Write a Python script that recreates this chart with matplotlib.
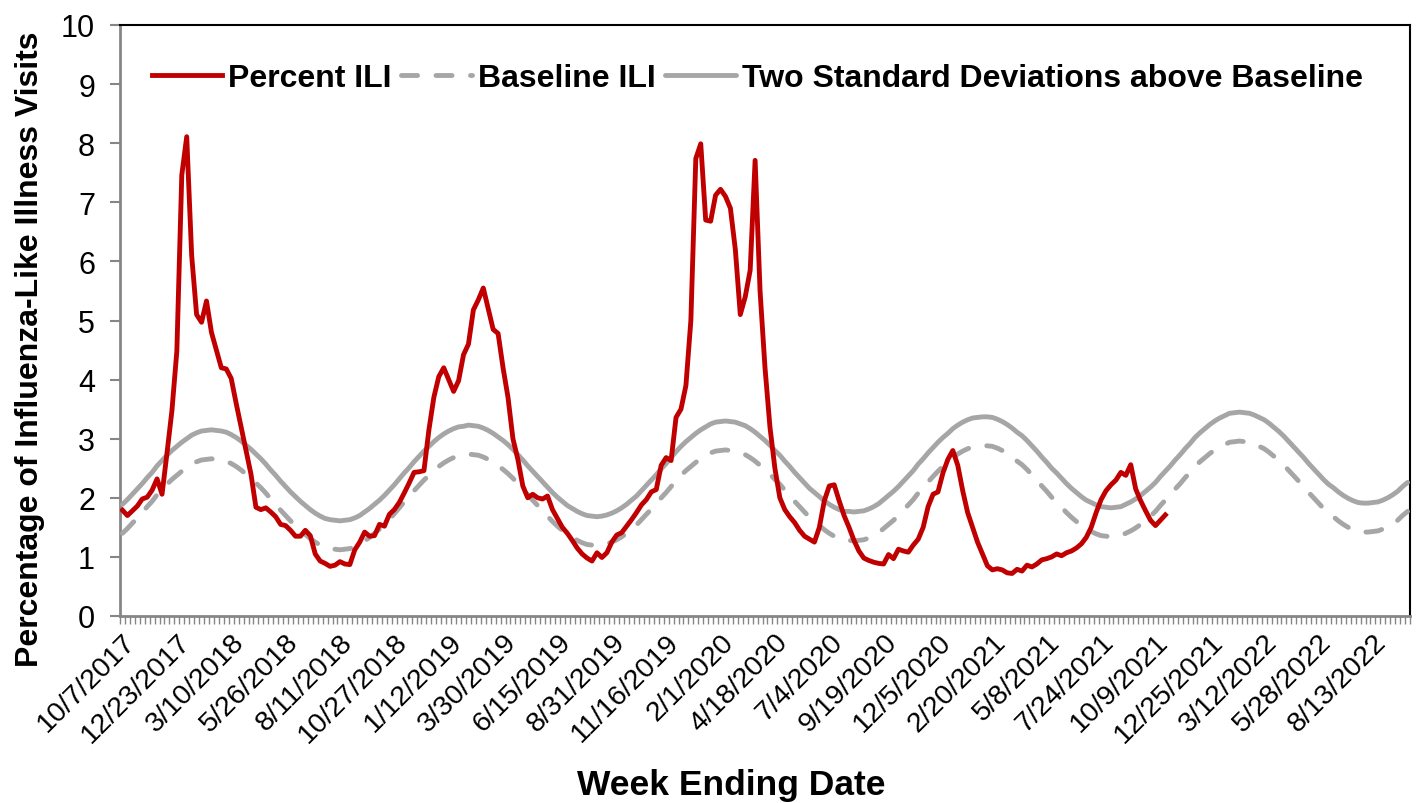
import matplotlib
matplotlib.use('Agg')
import matplotlib.pyplot as plt
import numpy as np
import pandas as pd
from matplotlib.ticker import FixedLocator, FixedFormatter

plt.rcParams['font.family'] = ['Liberation Sans', 'DejaVu Sans']

# Semanas (eje de categorias): 10/7/2017 ... 10/1/2022
semanas = pd.date_range('2017-10-07', periods=261, freq='7D')
etiquetas = [f'{d.month}/{d.day}/{d.year}' for d in semanas]

# Porcentaje de visitas ILI (termina en oct 2021)
percent_ili = [
    1.79, 1.70, 1.78, 1.86, 1.98, 2.01, 2.13, 2.32, 2.06, 2.75,
    3.47, 4.48, 7.46, 8.11, 6.10, 5.10, 4.97, 5.33, 4.80, 4.50,
    4.20, 4.18, 4.02, 3.60, 3.20, 2.80, 2.40, 1.84, 1.80, 1.83,
    1.76, 1.68, 1.55, 1.53, 1.45, 1.35, 1.35, 1.45, 1.36, 1.05,
    0.93, 0.89, 0.84, 0.86, 0.92, 0.88, 0.87, 1.12, 1.25, 1.42,
    1.35, 1.36, 1.55, 1.52, 1.72, 1.80, 1.92, 2.08, 2.25, 2.43,
    2.44, 2.46, 3.15, 3.70, 4.05, 4.20, 4.00, 3.80, 3.98, 4.42,
    4.60, 5.18, 5.35, 5.55, 5.20, 4.85, 4.78, 4.20, 3.70, 3.00,
    2.65, 2.20, 2.00, 2.06, 2.00, 1.98, 2.03, 1.80, 1.65, 1.50,
    1.40, 1.28, 1.15, 1.05, 0.98, 0.93, 1.07, 0.99, 1.07, 1.25,
    1.37, 1.41, 1.52, 1.63, 1.75, 1.88, 1.97, 2.10, 2.14, 2.55,
    2.68, 2.63, 3.36, 3.50, 3.90, 5.00, 7.74, 7.99, 6.70, 6.68,
    7.12, 7.22, 7.10, 6.90, 6.20, 5.10, 5.40, 5.85, 7.71, 5.50,
    4.20, 3.20, 2.50, 2.00, 1.80, 1.68, 1.58, 1.45, 1.35, 1.30,
    1.25, 1.50, 1.95, 2.20, 2.22, 1.95, 1.70, 1.50, 1.28, 1.10,
    0.98, 0.94, 0.91, 0.89, 0.88, 1.04, 0.97, 1.13, 1.10, 1.08,
    1.20, 1.30, 1.50, 1.85, 2.06, 2.10, 2.42, 2.65, 2.80, 2.55,
    2.12, 1.75, 1.50, 1.25, 1.05, 0.85, 0.78, 0.80, 0.78, 0.73,
    0.72, 0.79, 0.76, 0.86, 0.83, 0.88, 0.95, 0.97, 1.00, 1.05,
    1.02, 1.07, 1.10, 1.15, 1.22, 1.33, 1.50, 1.75, 1.97, 2.12,
    2.22, 2.30, 2.43, 2.38, 2.56, 2.15, 1.95, 1.78, 1.62, 1.53,
    1.62, 1.71,
]

# Linea base ILI
baseline_ili = [
    1.40, 1.48, 1.57, 1.66, 1.75, 1.85, 1.94, 2.05, 2.14, 2.23,
    2.31, 2.38, 2.45, 2.51, 2.57, 2.61, 2.64, 2.65, 2.66, 2.65,
    2.64, 2.62, 2.58, 2.53, 2.47, 2.40, 2.33, 2.25, 2.17, 2.08,
    1.98, 1.89, 1.79, 1.70, 1.61, 1.53, 1.45, 1.38, 1.31, 1.25,
    1.20, 1.16, 1.14, 1.13, 1.12, 1.13, 1.14, 1.17, 1.21, 1.27,
    1.33, 1.40, 1.47, 1.55, 1.64, 1.73, 1.83, 1.93, 2.02, 2.12,
    2.21, 2.30, 2.38, 2.46, 2.53, 2.59, 2.64, 2.68, 2.71, 2.72,
    2.74, 2.73, 2.72, 2.69, 2.65, 2.60, 2.54, 2.48, 2.41, 2.33,
    2.24, 2.15, 2.05, 1.96, 1.87, 1.78, 1.69, 1.60, 1.52, 1.45,
    1.38, 1.33, 1.28, 1.24, 1.21, 1.20, 1.19, 1.20, 1.22, 1.25,
    1.29, 1.34, 1.40, 1.47, 1.54, 1.63, 1.72, 1.81, 1.90, 2.00,
    2.09, 2.19, 2.29, 2.38, 2.46, 2.53, 2.60, 2.66, 2.71, 2.76,
    2.79, 2.80, 2.81, 2.80, 2.79, 2.76, 2.73, 2.68, 2.62, 2.55,
    2.48, 2.40, 2.31, 2.23, 2.13, 2.04, 1.94, 1.85, 1.76, 1.67,
    1.60, 1.53, 1.46, 1.40, 1.35, 1.31, 1.28, 1.28, 1.27, 1.28,
    1.29, 1.32, 1.36, 1.41, 1.48, 1.55, 1.62, 1.70, 1.79, 1.88,
    1.97, 2.08, 2.17, 2.27, 2.36, 2.45, 2.53, 2.60, 2.68, 2.74,
    2.79, 2.83, 2.86, 2.87, 2.88, 2.88, 2.87, 2.84, 2.80, 2.75,
    2.69, 2.62, 2.56, 2.48, 2.39, 2.30, 2.20, 2.11, 2.01, 1.93,
    1.84, 1.75, 1.67, 1.60, 1.53, 1.47, 1.43, 1.39, 1.36, 1.35,
    1.34, 1.35, 1.36, 1.40, 1.44, 1.49, 1.55, 1.62, 1.69, 1.77,
    1.87, 1.96, 2.05, 2.15, 2.24, 2.34, 2.43, 2.53, 2.61, 2.68,
    2.75, 2.81, 2.86, 2.90, 2.94, 2.95, 2.96, 2.95, 2.94, 2.91,
    2.87, 2.83, 2.77, 2.70, 2.63, 2.55, 2.46, 2.37, 2.28, 2.19,
    2.09, 2.00, 1.91, 1.82, 1.74, 1.68, 1.61, 1.55, 1.50, 1.46,
    1.43, 1.42, 1.42, 1.43, 1.44, 1.47, 1.51, 1.56, 1.62, 1.70, 1.77,
]

# Dos desviaciones estandar sobre la linea base
dos_desv = [
    1.89, 1.97, 2.06, 2.15, 2.24, 2.34, 2.43, 2.54, 2.63, 2.72,
    2.80, 2.87, 2.94, 3.00, 3.06, 3.10, 3.13, 3.14, 3.15, 3.14,
    3.13, 3.11, 3.07, 3.02, 2.96, 2.89, 2.82, 2.74, 2.66, 2.57,
    2.47, 2.38, 2.28, 2.19, 2.10, 2.02, 1.94, 1.87, 1.80, 1.74,
    1.69, 1.65, 1.63, 1.62, 1.61, 1.62, 1.63, 1.66, 1.70, 1.76,
    1.82, 1.89, 1.96, 2.04, 2.13, 2.22, 2.32, 2.42, 2.51, 2.61,
    2.70, 2.79, 2.87, 2.95, 3.02, 3.08, 3.13, 3.17, 3.20, 3.21,
    3.23, 3.22, 3.21, 3.18, 3.14, 3.09, 3.03, 2.97, 2.90, 2.82,
    2.73, 2.64, 2.54, 2.45, 2.36, 2.27, 2.18, 2.09, 2.01, 1.94,
    1.87, 1.82, 1.77, 1.73, 1.70, 1.69, 1.68, 1.69, 1.71, 1.74,
    1.78, 1.83, 1.89, 1.96, 2.03, 2.12, 2.21, 2.30, 2.39, 2.49,
    2.58, 2.68, 2.78, 2.87, 2.95, 3.02, 3.09, 3.15, 3.20, 3.25,
    3.28, 3.29, 3.30, 3.29, 3.28, 3.25, 3.22, 3.17, 3.11, 3.04,
    2.97, 2.89, 2.80, 2.72, 2.62, 2.53, 2.43, 2.34, 2.25, 2.16,
    2.09, 2.02, 1.95, 1.89, 1.84, 1.80, 1.77, 1.77, 1.76, 1.77,
    1.78, 1.81, 1.85, 1.90, 1.97, 2.04, 2.11, 2.19, 2.28, 2.37,
    2.46, 2.57, 2.66, 2.76, 2.85, 2.94, 3.02, 3.09, 3.17, 3.23,
    3.28, 3.32, 3.35, 3.36, 3.37, 3.37, 3.36, 3.33, 3.29, 3.24,
    3.18, 3.11, 3.05, 2.97, 2.88, 2.79, 2.69, 2.60, 2.50, 2.42,
    2.33, 2.24, 2.16, 2.09, 2.02, 1.96, 1.92, 1.88, 1.85, 1.84,
    1.83, 1.84, 1.85, 1.89, 1.93, 1.98, 2.04, 2.11, 2.18, 2.26,
    2.36, 2.45, 2.54, 2.64, 2.73, 2.83, 2.92, 3.02, 3.10, 3.17,
    3.24, 3.30, 3.35, 3.39, 3.43, 3.44, 3.45, 3.44, 3.43, 3.40,
    3.36, 3.32, 3.26, 3.19, 3.12, 3.04, 2.95, 2.86, 2.77, 2.68,
    2.58, 2.49, 2.40, 2.31, 2.23, 2.17, 2.10, 2.04, 1.99, 1.95,
    1.92, 1.91, 1.91, 1.92, 1.93, 1.96, 2.00, 2.05, 2.11, 2.19, 2.26,
]

gris = '#A6A6A6'
gris_eje = '#868686'

fig = plt.figure(figsize=(14.16, 8.04), dpi=100)
ax = fig.add_axes([120 / 1416, 1 - 617 / 804, 1290 / 1416, 591 / 804])

x = np.arange(len(semanas))
ax.plot(np.arange(len(percent_ili)), percent_ili, color='#C00000', lw=3.5,
        solid_joinstyle='round', label='Percent ILI', zorder=4)
ax.plot(x, baseline_ili, color=gris, lw=3.5, ls=(0, (3.3, 3.8)),
        dash_capstyle='round', label='Baseline ILI', zorder=3)
ax.plot(x, dos_desv, color=gris, lw=3.5, solid_capstyle='round',
        label='Two Standard Deviations above Baseline', zorder=3)

ax.set_xlim(-0.5, len(semanas) - 0.5)
ax.set_ylim(0, 10)

# Ejes
ax.set_yticks(range(0, 11))
ax.tick_params(axis='y', direction='out', length=7, width=1.5, color=gris_eje,
               labelsize=22, pad=11)
pos = list(range(0, len(semanas), 11))
ax.xaxis.set_major_locator(FixedLocator(pos))
ax.xaxis.set_major_formatter(FixedFormatter([etiquetas[i] for i in pos]))
ax.xaxis.set_minor_locator(FixedLocator(np.arange(-0.5, len(semanas), 1)))
ax.tick_params(axis='x', which='major', length=0, labelsize=20.5, pad=9)
ax.tick_params(axis='x', which='minor', direction='out', length=6, width=1,
               color=gris_eje)
for t in ax.get_xticklabels():
    t.set_rotation(45)
    t.set_ha('right')
    t.set_rotation_mode('anchor')

for lado in ['left', 'bottom']:
    ax.spines[lado].set_color(gris_eje)
    ax.spines[lado].set_linewidth(2)
for lado in ['top', 'right']:
    ax.spines[lado].set_color('black')
    ax.spines[lado].set_linewidth(1.5)

fig.text(30 / 1416, 1 - 349 / 804, 'Percentage of Influenza-Like Illness Visits',
         fontsize=23, fontweight='bold', rotation=90, ha='center', va='center')
fig.text(731 / 1416, 1 - 786 / 804, 'Week Ending Date', fontsize=25.5,
         fontweight='bold', ha='center', va='center')

ax.legend(loc='center', bbox_to_anchor=(0.494, 0.91), ncol=3, frameon=False,
          prop={'weight': 'bold', 'size': 23}, handlelength=2.2,
          handletextpad=0.2, columnspacing=0.3, borderaxespad=0)

fig.savefig('out.png', dpi=100)
